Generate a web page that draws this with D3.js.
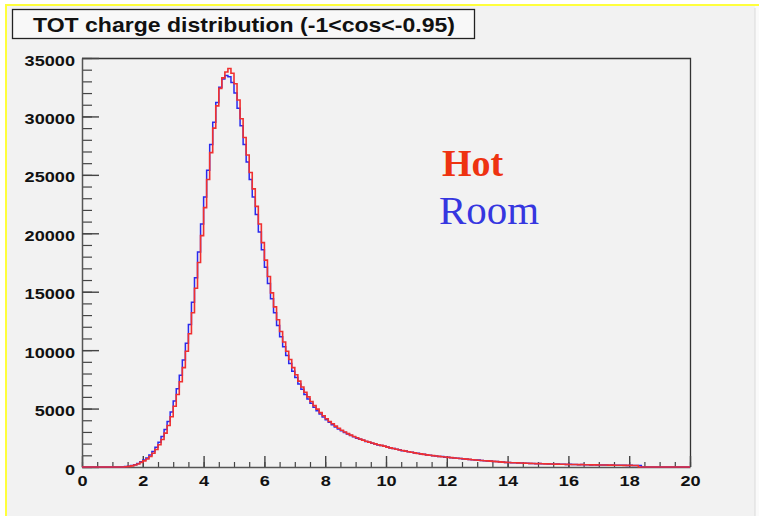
<!DOCTYPE html>
<html>
<head>
<meta charset="utf-8">
<script src="https://cdn.jsdelivr.net/npm/d3@7"></script>
<style>
    body { margin: 0; background: #ffffff; }
    svg { display: block; }
</style>
</head>
<body>
<svg id="drawing_region"></svg>
<script>
// histogram: 200 bins of width 0.1 from 0 to 20
const binStart = 0;
const binWidth = 0.1;

// "Hot" counts per bin
const hotCounts = [
    0,0,0,0,0,0,0,0,0,0,
    0,0,0,0,20,50,100,170,260,400,
    520,680,900,1180,1500,1900,2350,2900,3550,4300,
    5200,6200,7300,8500,9900,11400,13200,15300,17500,19800,
    22200,24600,26900,29000,30900,32400,33300,33800,34100,33700,
    32800,31400,29800,28200,26700,25200,23800,22300,20800,19200,
    17700,16300,14900,13700,12600,11600,10700,9900,9200,8500,
    7900,7350,6850,6400,6000,5600,5250,4950,4650,4380,
    4130,3900,3700,3500,3320,3150,3000,2860,2730,2610,
    2500,2400,2300,2210,2130,2050,1980,1910,1850,1790,
    1700,1640,1580,1520,1460,1410,1360,1310,1260,1210,
    1160,1120,1080,1040,1000,970,940,910,880,850,
    825,800,775,750,725,700,675,650,625,600,
    580,560,540,520,500,480,460,440,420,400,
    385,370,360,350,340,330,320,310,300,290,
    285,280,270,265,260,250,245,240,230,225,
    220,215,210,205,200,195,190,185,185,180,
    175,170,165,160,160,155,150,145,140,140,
    135,130,125,0,0,0,0,0,0,0,
    0,0,0,0,0,0,0,0,0,0
];

// "Room" counts per bin
const roomCounts = [
    0,0,0,0,0,0,0,0,0,0,
    0,0,0,10,35,70,120,200,300,450,
    600,780,1030,1330,1700,2120,2620,3200,3900,4700,
    5650,6700,7850,9150,10600,12200,14100,16200,18400,20800,
    23100,25400,27600,29500,31200,32500,33200,33500,33400,32900,
    32000,30700,29200,27600,26100,24600,23100,21600,20100,18600,
    17100,15700,14400,13200,12100,11150,10300,9550,8850,8200,
    7650,7100,6650,6200,5820,5450,5120,4820,4540,4280,
    4040,3820,3620,3430,3260,3100,2950,2820,2690,2580,
    2470,2370,2280,2190,2110,2030,1960,1890,1830,1770,
    1710,1630,1590,1510,1470,1400,1370,1300,1270,1200,
    1170,1110,1090,1030,1010,960,950,900,890,840,
    830,790,780,740,730,690,680,640,630,590,
    590,550,545,510,505,470,465,430,425,395,
    390,360,365,345,345,325,325,305,305,285,
    290,275,275,260,265,245,250,235,235,220,
    225,210,215,200,205,190,195,180,190,175,
    180,165,170,155,165,150,155,140,145,135,
    140,125,130,120,0,0,0,0,0,0,
    0,0,0,0,0,0,0,0,0,0
];

const xTicks = [0, 2, 4, 6, 8, 10, 12, 14, 16, 18, 20];
const yTicks = [0, 5000, 10000, 15000, 20000, 25000, 30000, 35000];
const xMinorStep = 0.5;
const yMinorStep = 1000;

const title = 'TOT charge distribution (-1<cos<-0.95)';
const seriesNames = ['Hot', 'Room'];

const config = {
    parent: '#drawing_region',
    width: 759,
    height: 516,
    margin: {top: 58, right: 69, bottom: 49, left: 82}
};

const svg = d3.select(config.parent)
    .attr('width', config.width)
    .attr('height', config.height);

// canvas background, yellow pad edge
svg.append('rect')
    .attr('x', 6).attr('y', 5)
    .attr('width', 749).attr('height', 511)
    .attr('fill', '#f2f2f2');
svg.append('rect')
    .attr('x', 755).attr('y', 5)
    .attr('width', 4).attr('height', 511)
    .attr('fill', '#fafafa');
svg.append('line')
    .attr('x1', 755).attr('x2', 755).attr('y1', 8).attr('y2', 516)
    .attr('stroke', '#dadada');
svg.append('line')
    .attr('x1', 5).attr('x2', 759).attr('y1', 5).attr('y2', 5)
    .attr('stroke', '#ffff3c').attr('stroke-width', 2);
svg.append('line')
    .attr('x1', 6).attr('x2', 6).attr('y1', 5).attr('y2', 516)
    .attr('stroke', '#ffff3c').attr('stroke-width', 2);

const inner_width = config.width - config.margin.left - config.margin.right;
const inner_height = config.height - config.margin.top - config.margin.bottom;

const chart = svg.append('g')
    .attr('transform', `translate(${config.margin.left}, ${config.margin.top})`);

const xscale = d3.scaleLinear()
    .domain([xTicks[0], xTicks[xTicks.length - 1]])
    .range([0, inner_width]);

const yscale = d3.scaleLinear()
    .domain([yTicks[0], yTicks[yTicks.length - 1]])
    .range([inner_height, 0]);

const xMinor = d3.range(xTicks[0], xTicks[xTicks.length - 1] + 1e-9, xMinorStep);
const yMinor = d3.range(yTicks[0], yTicks[yTicks.length - 1] + 1e-9, yMinorStep);

const tickColor = '#444';
const labelFont = '"Liberation Sans", Arial, sans-serif';

// frame (top and right)
chart.append('path')
    .attr('d', `M0,0.5H${inner_width + 0.5}V${inner_height}`)
    .attr('fill', 'none')
    .attr('stroke', '#333')
    .attr('stroke-width', 1.3);

// minor ticks
chart.append('g')
    .attr('transform', `translate(0, ${inner_height})`)
    .call(d3.axisBottom(xscale).tickValues(xMinor).tickSize(-5).tickFormat(''))
    .call(g => g.select('.domain').remove())
    .call(g => g.selectAll('line').attr('stroke', tickColor).attr('stroke-width', 1.2));

chart.append('g')
    .call(d3.axisLeft(yscale).tickValues(yMinor).tickSize(-10).tickFormat(''))
    .call(g => g.select('.domain').remove())
    .call(g => g.selectAll('line').attr('stroke', tickColor).attr('stroke-width', 1.2));

// major ticks + labels
const xaxis_group = chart.append('g')
    .attr('transform', `translate(0, ${inner_height})`)
    .call(d3.axisBottom(xscale).tickValues(xTicks).tickSize(-11).tickPadding(8).tickSizeOuter(0).tickFormat(d3.format('d')));

const yaxis_group = chart.append('g')
    .call(d3.axisLeft(yscale).tickValues(yTicks).tickSize(-17).tickPadding(6).tickSizeOuter(0).tickFormat(d3.format('d')));

[xaxis_group, yaxis_group].forEach(g => {
    g.select('.domain').attr('stroke', '#555').attr('stroke-width', 1.5);
    g.selectAll('.tick line').attr('stroke', tickColor).attr('stroke-width', 1.4);
    g.selectAll('.tick text')
        .attr('fill', '#111')
        .style('font-family', labelFont)
        .style('font-size', '15.5px')
        .style('font-weight', 'bold')
        .attr('transform', 'scale(1.17,1)');
});
yaxis_group.selectAll('.tick text').attr('dy', '0.46em');

// histograms as steps
const makeSteps = counts => {
    const pts = counts.map((c, i) => [binStart + i * binWidth, c]);
    pts.push([binStart + counts.length * binWidth, counts[counts.length - 1]]);
    return pts;
};

const line = d3.line()
    .x(d => xscale(d[0]))
    .y(d => yscale(d[1]))
    .curve(d3.curveStepAfter);

chart.append('path')
    .datum(makeSteps(roomCounts))
    .attr('d', line)
    .attr('fill', 'none')
    .attr('stroke', '#2a2aee')
    .attr('stroke-width', 1.5);

chart.append('path')
    .datum(makeSteps(hotCounts))
    .attr('d', line)
    .attr('fill', 'none')
    .attr('stroke', '#f03030')
    .attr('stroke-width', 1.6);

// legend text
svg.append('text')
    .attr('x', 442).attr('y', 176)
    .style('font-family', '"Liberation Serif", "Times New Roman", serif')
    .style('font-size', '38px')
    .style('font-weight', 'bold')
    .attr('fill', '#ee3311')
    .text(seriesNames[0]);

svg.append('text')
    .attr('x', 439).attr('y', 224)
    .attr('textLength', 100)
    .attr('lengthAdjust', 'spacingAndGlyphs')
    .style('font-family', '"Liberation Serif", "Times New Roman", serif')
    .style('font-size', '39px')
    .attr('fill', '#3636e0')
    .text(seriesNames[1]);

// title box
svg.append('rect')
    .attr('x', 12.5).attr('y', 9.5)
    .attr('width', 462).attr('height', 29)
    .attr('fill', '#f8f8f8')
    .attr('stroke', '#222')
    .attr('stroke-width', 1.3);

svg.append('text')
    .attr('x', 33).attr('y', 31.5)
    .attr('textLength', 422)
    .attr('lengthAdjust', 'spacingAndGlyphs')
    .style('font-family', labelFont)
    .style('font-size', '21px')
    .style('font-weight', 'bold')
    .attr('fill', '#111')
    .text(title);
</script>
</body>
</html>
